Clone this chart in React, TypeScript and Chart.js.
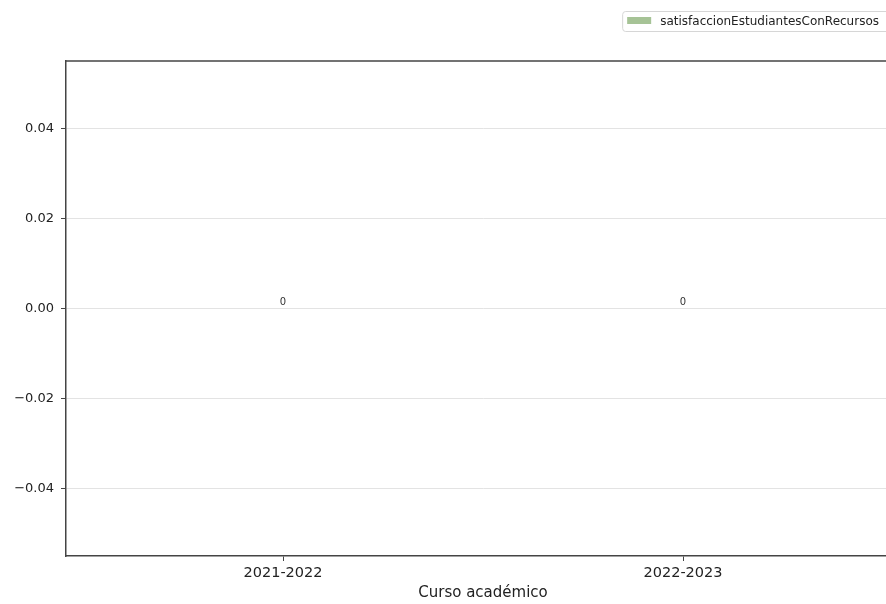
import React, { useEffect, useRef } from "react";
import { Chart, registerables } from "chart.js";

Chart.register(...registerables);

const categories: string[] = ["2021-2022", "2022-2023"];
const seriesName = "satisfaccionEstudiantesConRecursos";
const seriesValues: number[] = [0, 0];
const yTickValues: number[] = [-0.04, -0.02, 0, 0.02, 0.04];

const FONT = "'DejaVu Sans', sans-serif";
const BAR_COLOR = "#a6c396";

const frameAndLabels = {
  id: "frameAndLabels",
  afterDraw(chart: any) {
    const { ctx, chartArea } = chart;
    ctx.save();
    // top frame line
    ctx.strokeStyle = "#444";
    ctx.lineWidth = 1.5;
    ctx.beginPath();
    ctx.moveTo(chartArea.left - 0.75, chartArea.top);
    ctx.lineTo(chartArea.right, chartArea.top);
    ctx.stroke();
    // value labels
    const meta = chart.getDatasetMeta(0);
    ctx.fillStyle = "#333";
    ctx.font = `10px ${FONT}`;
    ctx.textAlign = "center";
    ctx.textBaseline = "bottom";
    meta.data.forEach((el: any, i: number) => {
      const v = chart.data.datasets[0].data[i].y;
      ctx.fillText(String(v), el.x, Math.min(el.y, el.base) - 1);
    });
    // legend
    const text = seriesName;
    ctx.font = `12px ${FONT}`;
    const tw = ctx.measureText(text).width;
    const right = 879;
    const textX = right - tw;
    const boxL = textX - 38;
    ctx.fillStyle = "#fff";
    ctx.strokeStyle = "#d6d6d6";
    ctx.lineWidth = 1;
    const top = 11.5, h = 20;
    ctx.beginPath();
    (ctx as any).roundRect(boxL + 0.5, top, 890 - boxL, h, 3);
    ctx.fill();
    ctx.stroke();
    ctx.fillStyle = BAR_COLOR;
    ctx.fillRect(boxL + 5, 17, 24, 7);
    ctx.fillStyle = "#222";
    ctx.textAlign = "left";
    ctx.textBaseline = "middle";
    ctx.fillText(text, textX, 21.5);
    ctx.restore();
  },
};

export default function App() {
  const ref = useRef<HTMLCanvasElement | null>(null);
  useEffect(() => {
    if (!ref.current) return;
    const chart = new Chart(ref.current, {
      type: "bar",
      data: {
        datasets: [
          {
            label: seriesName,
            data: categories.map((c, i) => ({ x: i, y: seriesValues[i] })),
            backgroundColor: BAR_COLOR,
            borderWidth: 0,
            barPercentage: 0.8,
            categoryPercentage: 1,
          },
        ],
      },
      options: {
        animation: false,
        responsive: false,
        devicePixelRatio: 1,
        layout: { padding: { top: 61, left: 0, right: 0, bottom: 0 } },
        plugins: { legend: { display: false }, tooltip: { enabled: false } },
        scales: {
          x: {
            type: "linear",
            offset: false,
            min: -0.5425,
            max: 1.5425,
            afterBuildTicks: (s: any) => {
              s.ticks = categories.map((_, i) => ({ value: i }));
            },
            afterFit: (s: any) => {
              s.height = 48;
            },
            ticks: {
              callback: (v: any) => categories[v] ?? "",
              font: { family: FONT, size: 14.5 },
              color: "#222",
              padding: 4,
              maxRotation: 0,
            },
            grid: {
              offset: false,
              drawOnChartArea: false,
              drawTicks: true,
              tickLength: 5,
              tickColor: "#444",
              tickWidth: 1,
            },
            border: { display: true, color: "#444", width: 1.5 },
            title: {
              display: true,
              text: "Curso académico",
              font: { family: FONT, size: 15 },
              color: "#222",
              padding: { top: 0, bottom: 2 },
            },
          },
          y: {
            min: -0.055,
            max: 0.055,
            afterBuildTicks: (s: any) => {
              s.ticks = yTickValues.map((v) => ({ value: v }));
            },
            afterFit: (s: any) => {
              s.width = 66;
            },
            ticks: {
              callback: (v: any) => {
                const s = Math.abs(v).toFixed(2);
                return v < -1e-9 ? "\u2212" + s : s;
              },
              font: { family: FONT, size: 13 },
              color: "#222",
              padding: 7,
            },
            grid: {
              color: "#e3e3e3",
              lineWidth: 1,
              drawTicks: true,
              tickLength: 5,
              tickColor: "#444",
              tickWidth: 1,
            },
            border: { display: true, color: "#444", width: 1.5 },
          },
        },
      },
      plugins: [frameAndLabels],
    });
    return () => chart.destroy();
  }, []);
  return (
    <div
      style={{
        position: "fixed",
        left: 0,
        top: 0,
        width: 886,
        height: 604,
        overflow: "hidden",
        background: "#fff",
      }}
    >
      <canvas ref={ref} width={900} height={604} style={{ display: "block" }} />
    </div>
  );
}
